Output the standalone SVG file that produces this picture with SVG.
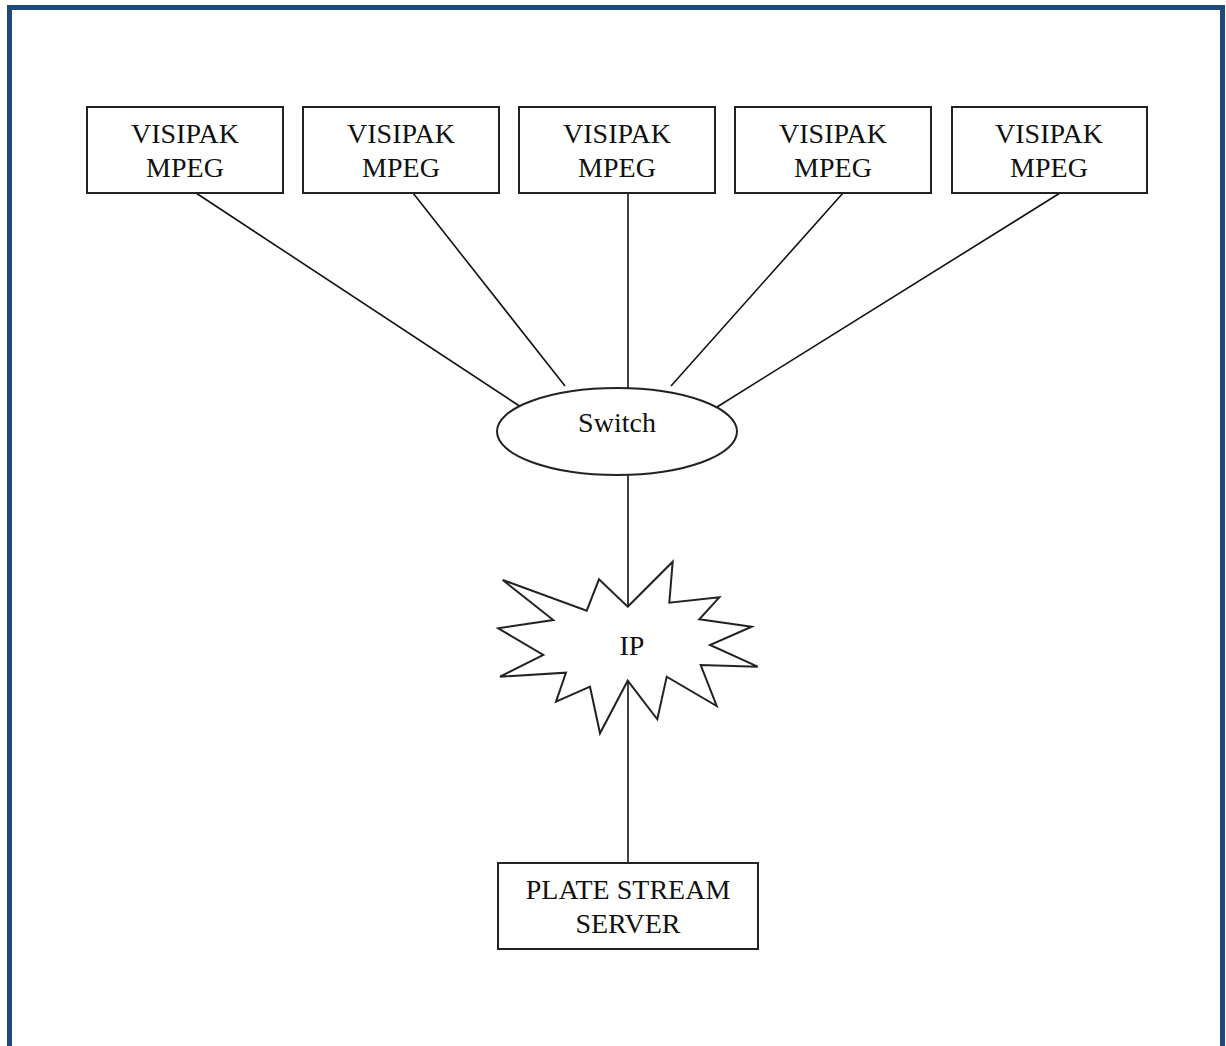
<svg xmlns="http://www.w3.org/2000/svg" width="1226" height="1046" viewBox="0 0 1226 1046">
<style>
.box{fill:#fff;stroke:#222;stroke-width:2}
.t{font-family:"Liberation Serif","Times New Roman",serif;font-size:28px;fill:#111;text-anchor:middle}
.ln{stroke:#111;stroke-width:1.6;fill:none}
</style>
<rect width="1226" height="1046" fill="#fff"/>
<path d="M9.5,1046 V7.5 H1222.5 V1046" fill="none" stroke="#1f497d" stroke-width="5"/>
<g id="connectors">
<line class="ln" x1="196" y1="193" x2="521" y2="407"/>
<line class="ln" x1="413" y1="193" x2="565" y2="386"/>
<line class="ln" x1="628" y1="193" x2="628" y2="388"/>
<line class="ln" x1="843" y1="193" x2="671" y2="386"/>
<line class="ln" x1="1060" y1="193" x2="717" y2="407"/>
<line class="ln" x1="628" y1="475" x2="628" y2="607"/>
<line class="ln" x1="628" y1="681" x2="628" y2="863"/>
</g>
<g id="n1"><rect class="box" x="87" y="107" width="196" height="86"/><text class="t" x="185" y="143">VISIPAK</text><text class="t" x="185" y="177">MPEG</text></g>
<g id="n2"><rect class="box" x="303" y="107" width="196" height="86"/><text class="t" x="401" y="143">VISIPAK</text><text class="t" x="401" y="177">MPEG</text></g>
<g id="n3"><rect class="box" x="519" y="107" width="196" height="86"/><text class="t" x="617" y="143">VISIPAK</text><text class="t" x="617" y="177">MPEG</text></g>
<g id="n4"><rect class="box" x="735" y="107" width="196" height="86"/><text class="t" x="833" y="143">VISIPAK</text><text class="t" x="833" y="177">MPEG</text></g>
<g id="n5"><rect class="box" x="952" y="107" width="195" height="86"/><text class="t" x="1049" y="143">VISIPAK</text><text class="t" x="1049" y="177">MPEG</text></g>
<g id="switch"><ellipse class="box" cx="617" cy="431.5" rx="120" ry="43.5"/><text class="t" x="617" y="432">Switch</text></g>
<g id="ip"><polygon class="box" points="627.7,606.7 672.7,561.7 669.3,602.7 719.3,597.3 699.3,619.3 751.7,626.7 710,645 757.7,666.7 700.7,665 716.7,706 666.7,676.7 657.3,719.3 627.7,680.7 600,733.3 590,686.7 556,701.7 566,672.7 500,676.7 543.3,655 498.3,628.3 553.3,620 502.7,580 586.7,610.7 599,579.3"/><text class="t" x="632" y="655">IP</text></g>
<g id="server"><rect class="box" x="498" y="863" width="260" height="86"/><text class="t" x="628" y="899">PLATE STREAM</text><text class="t" x="628" y="933">SERVER</text></g>
</svg>
